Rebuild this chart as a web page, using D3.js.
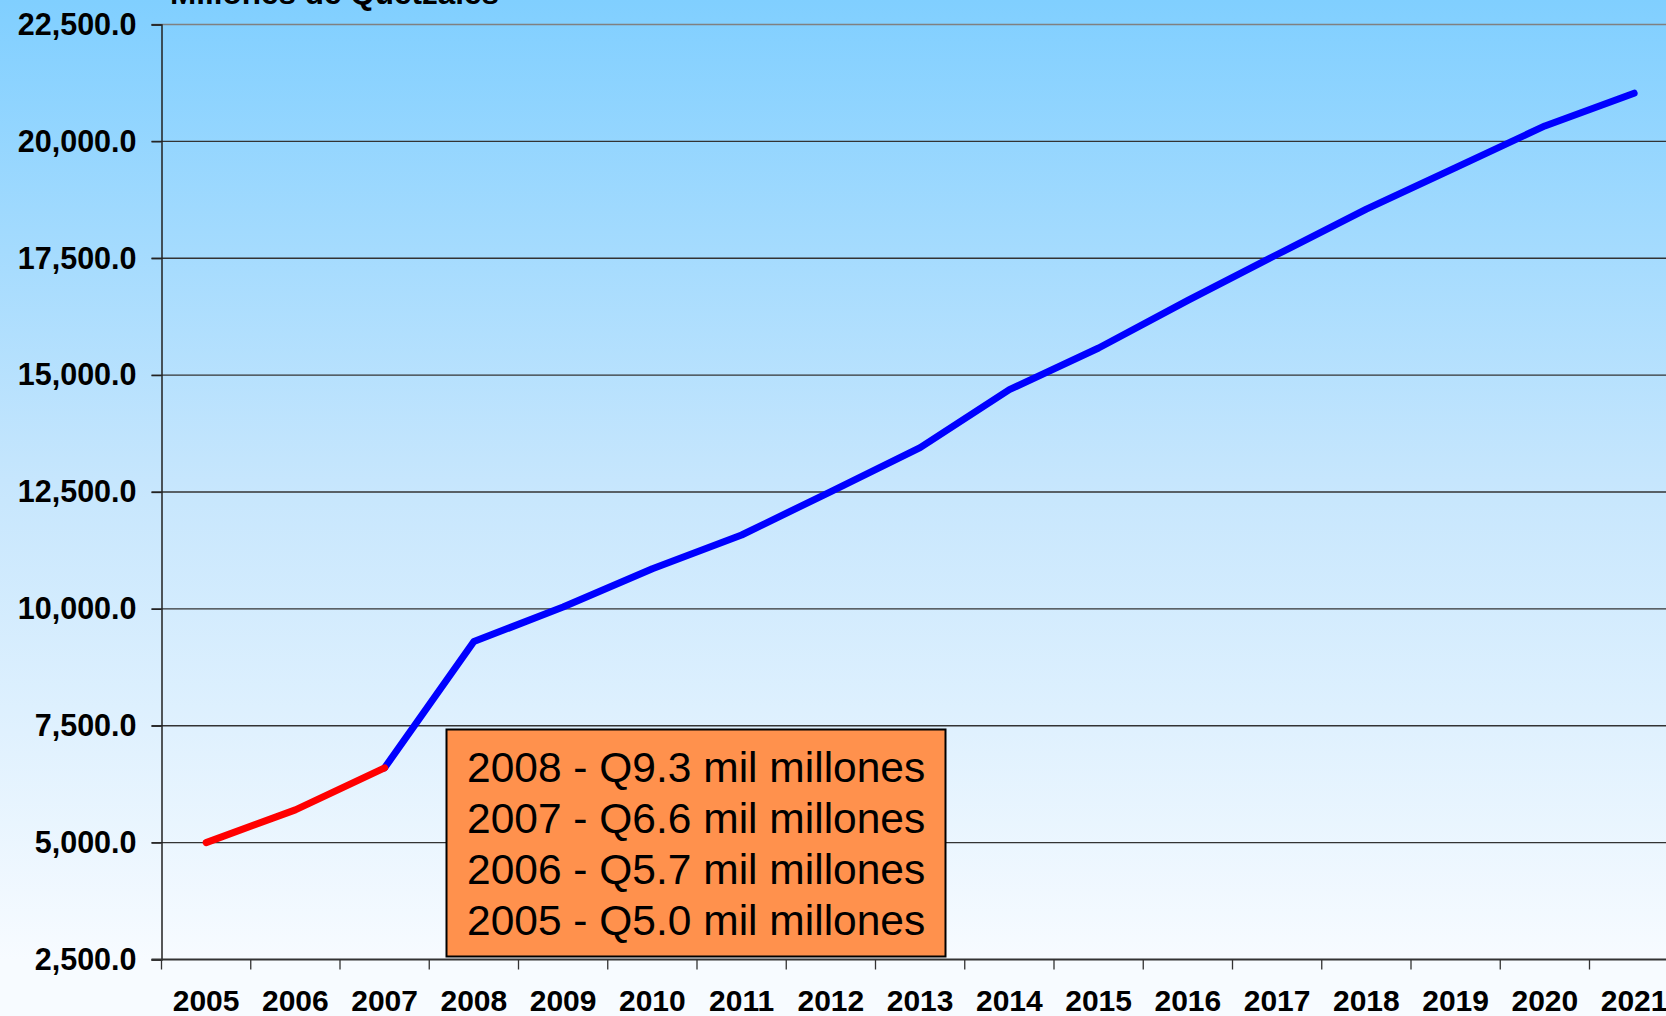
<!DOCTYPE html>
<html>
<head>
<meta charset="utf-8">
<script src="https://cdn.jsdelivr.net/npm/d3@7"></script>
<style>
  html, body { margin: 0; padding: 0; overflow: hidden; background: #f7fbff; }
  text { font-family: "Liberation Sans", Arial, sans-serif; }
</style>
</head>
<body>
<svg id="chart"></svg>
<script>
// Data
const years = ["2005", "2006", "2007", "2008", "2009", "2010", "2011", "2012", "2013",
               "2014", "2015", "2016", "2017", "2018", "2019", "2020", "2021"];
const values = [5000, 5700, 6600, 9300, 10040, 10860, 11580, 12510, 13450,
                14690, 15580, 16600, 17580, 18550, 19440, 20330, 21030];
const yTicks = [2500, 5000, 7500, 10000, 12500, 15000, 17500, 20000, 22500];
const noteLines = ["2008 - Q9.3 mil millones", "2007 - Q6.6 mil millones",
                   "2006 - Q5.7 mil millones", "2005 - Q5.0 mil millones"];
const title = "Millones de Quetzales";

const width = 1666;
const height = 1016;
const plotLeft = 161.5, plotTop = 24.5, plotBottom = 959.5;
const bandW = 89.25;

const svg = d3.select("#chart")
    .attr("width", width)
    .attr("height", height);

// background gradient
const grad = svg.append("defs").append("linearGradient")
    .attr("id", "bg")
    .attr("x1", 0).attr("y1", 0).attr("x2", 0).attr("y2", 1);
grad.append("stop").attr("offset", "0%").attr("stop-color", "#80cfff");
grad.append("stop").attr("offset", "50%").attr("stop-color", "#c6e6fd");
grad.append("stop").attr("offset", "100%").attr("stop-color", "#f7fbff");

svg.append("rect")
    .attr("width", width).attr("height", plotBottom)
    .attr("fill", "url(#bg)");

const x = d3.scaleBand()
    .domain(years)
    .range([plotLeft, plotLeft + years.length * bandW])
    .padding(0);

const y = d3.scaleLinear()
    .domain([2500, 22500])
    .range([plotBottom, plotTop]);

// gridlines
svg.append("g")
  .selectAll("line")
  .data(yTicks.slice(1))
  .enter().append("line")
    .attr("x1", plotLeft - 10).attr("x2", width)
    .attr("y1", d => y(d)).attr("y2", d => y(d))
    .attr("stroke", (d, i) => i === yTicks.length - 2 ? "#808080" : "#333")
    .attr("stroke-width", 1.3);

// y axis
const yAxis = svg.append("g")
    .attr("transform", `translate(${plotLeft},0)`)
    .call(d3.axisLeft(y).tickValues(yTicks).tickFormat(d3.format(",.1f")).tickSize(10).tickPadding(15));
yAxis.select(".domain").attr("stroke", "#222").attr("stroke-width", 1.5);
yAxis.selectAll(".tick line").attr("stroke", "#222").attr("stroke-width", 1.3);
yAxis.selectAll("text")
    .attr("fill", "#000")
    .style("font-size", "30.5px")
    .style("font-weight", "bold")
    .style("font-family", "'Liberation Sans', Arial, sans-serif");

// x axis: labels centered, ticks at band edges
const xAxis = svg.append("g")
    .attr("transform", `translate(0,${plotBottom})`)
    .call(d3.axisBottom(x).tickSize(0).tickPadding(0));
xAxis.select(".domain").remove();
xAxis.selectAll("text")
    .attr("y", 0)
    .attr("dy", 0)
    .attr("transform", "translate(0,51)")
    .attr("fill", "#000")
    .style("font-size", "30px")
    .style("font-weight", "bold")
    .style("font-family", "'Liberation Sans', Arial, sans-serif");

svg.append("line")
    .attr("x1", plotLeft - 10).attr("x2", width)
    .attr("y1", plotBottom).attr("y2", plotBottom)
    .attr("stroke", "#333").attr("stroke-width", 2);

svg.append("g")
  .selectAll("line")
  .data(years)
  .enter().append("line")
    .attr("x1", d => x(d)).attr("x2", d => x(d))
    .attr("y1", plotBottom).attr("y2", plotBottom + 10)
    .attr("stroke", "#333").attr("stroke-width", 1.3);

// series line
const line = d3.line()
    .x(d => x(d.year) + x.bandwidth() / 2)
    .y(d => y(d.value));

const points = years.map((yr, i) => ({ year: yr, value: values[i] }));

svg.append("path")
    .datum(points.slice(2))
    .attr("d", line)
    .attr("fill", "none")
    .attr("stroke", "#0000ff")
    .attr("stroke-width", 7)
    .attr("stroke-linecap", "round")
    .attr("stroke-linejoin", "round");

svg.append("path")
    .datum(points.slice(0, 3))
    .attr("d", line)
    .attr("fill", "none")
    .attr("stroke", "#ff0000")
    .attr("stroke-width", 7)
    .attr("stroke-linecap", "round")
    .attr("stroke-linejoin", "round");

// title (clipped at top, as in the original)
svg.append("text")
    .attr("x", 170)
    .attr("y", 4)
    .text(title)
    .style("font-size", "31.5px")
    .style("font-weight", "bold");

// note box
const box = svg.append("g");
box.append("rect")
    .attr("x", 446.5).attr("y", 729.5)
    .attr("width", 499).attr("height", 227)
    .attr("fill", "#ff914d")
    .attr("stroke", "#000")
    .attr("stroke-width", 2);

box.selectAll("text")
  .data(noteLines)
  .enter().append("text")
    .attr("x", 467)
    .attr("y", (d, i) => 782 + i * 51)
    .text(d => d)
    .style("font-size", "42.5px")
    .attr("fill", "#000");
</script>
</body>
</html>
